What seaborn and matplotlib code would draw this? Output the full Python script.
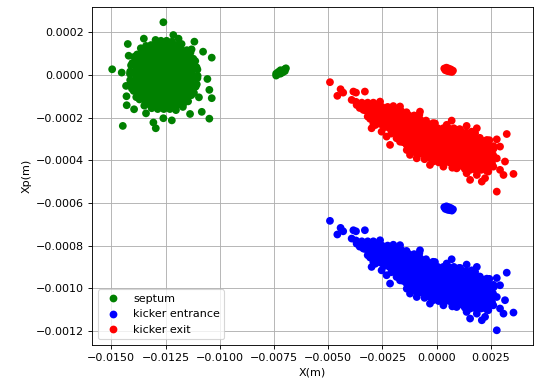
import matplotlib
matplotlib.use("Agg")
import matplotlib.pyplot as plt
import seaborn as sns
import pandas as pd

# ---------------- septum (green) ----------------
septum_x = [
    # isolated points
    -0.0126, -0.01496, -0.01424, -0.01037, -0.01077, -0.01117, -0.01214, -0.01452,
    -0.01432, -0.01429, -0.01395, -0.01447, -0.01306, -0.01295, -0.01221, -0.01137,
    -0.01083, -0.01048, -0.01037, -0.01048, -0.01057, -0.01096, -0.0126,
    -0.0135, -0.0119, -0.0113, -0.0142, -0.0143, -0.0134, -0.0117,
    # small bunch near -0.0072
    -0.0074, -0.0073, -0.0072, -0.0071, -0.0070, -0.00695, -0.0073, -0.0072, -0.0071, -0.0072, -0.0070, -0.0074,
    # dense core
    -0.01296, -0.01271, -0.01245, -0.0122,
    -0.0134, -0.01317, -0.01293, -0.0127, -0.01246, -0.01223, -0.01199, -0.01176,
    -0.01364, -0.01338, -0.01311, -0.01285, -0.01258, -0.01232, -0.01205, -0.01179, -0.01152,
    -0.01381, -0.01356, -0.01332, -0.01307, -0.01283, -0.01258, -0.01233, -0.01209, -0.01184, -0.0116, -0.01135,
    -0.01394, -0.01369, -0.01345, -0.0132, -0.01295, -0.0127, -0.01246, -0.01221, -0.01196, -0.01171, -0.01147, -0.01122,
    -0.01403, -0.01379, -0.01355, -0.0133, -0.01306, -0.01282, -0.01258, -0.01234, -0.0121, -0.01186, -0.01161, -0.01137, -0.01113,
    -0.01409, -0.01384, -0.01359, -0.01333, -0.01308, -0.01283, -0.01258, -0.01233, -0.01208, -0.01183, -0.01157, -0.01132, -0.01107,
    -0.01413, -0.01387, -0.01361, -0.01336, -0.0131, -0.01284, -0.01258, -0.01232, -0.01206, -0.0118, -0.01155, -0.01129, -0.01103,
    -0.01414, -0.01388, -0.01362, -0.01336, -0.0131, -0.01284, -0.01258, -0.01232, -0.01206, -0.0118, -0.01154, -0.01128, -0.01102,
    -0.01413, -0.01387, -0.01361, -0.01336, -0.0131, -0.01284, -0.01258, -0.01232, -0.01206, -0.0118, -0.01155, -0.01129, -0.01103,
    -0.0141, -0.01385, -0.01359, -0.01334, -0.01309, -0.01283, -0.01258, -0.01233, -0.01207, -0.01182, -0.01157, -0.01131, -0.01106,
    -0.01405, -0.01381, -0.01356, -0.01332, -0.01307, -0.01283, -0.01258, -0.01233, -0.01209, -0.01184, -0.0116, -0.01135, -0.01111,
    -0.01397, -0.01372, -0.01346, -0.01321, -0.01296, -0.01271, -0.01245, -0.0122, -0.01195, -0.0117, -0.01144, -0.01119,
    -0.01385, -0.0136, -0.01334, -0.01309, -0.01283, -0.01258, -0.01233, -0.01207, -0.01182, -0.01156, -0.01131,
    -0.0137, -0.01345, -0.0132, -0.01295, -0.0127, -0.01246, -0.01221, -0.01196, -0.01171, -0.01146,
    -0.01348, -0.01322, -0.01297, -0.01271, -0.01245, -0.01219, -0.01194, -0.01168,
    -0.01314, -0.01286, -0.01258, -0.0123, -0.01202,
]
septum_y = [
    0.000247, 0.0000265, 0.000145, 0.000081, 0.000109, 0.000156, 0.000187, 0.000011,
    -0.0000515, -0.000142, -0.000161, -0.000239, -0.000223, -0.00025, -0.000213, -0.000183,
    -0.000173, -0.000205, -0.000109, -0.00007, -0.000019, -0.000105, -0.000203,
    0.00017, 0.00017, 0.00012, 0.00009, -0.0001, -0.00018, -0.00015,
    -0.000003, 0.000005, 0.000013, 0.00002, 0.000027, 0.000031, 0.000014, 0.000006, 0.000012, 0.000022, 0.000018, 0.000006,
    0.000164, 0.00016, 0.00016, 0.000156,
    0.000136, 0.00014, 0.00014, 0.00014, 0.00014, 0.00014, 0.00014, 0.000145,
    0.000125, 0.00012, 0.00012, 0.00012, 0.00012, 0.00012, 0.00012, 0.00012, 0.000116,
    0.000096, 0.0001, 0.0001, 0.0001, 0.0001, 0.0001, 0.0001, 0.0001, 0.0001, 0.0001, 0.000105,
    0.000085, 0.00008, 0.00008, 0.00008, 0.00008, 0.00008, 0.00008, 0.00008, 0.00008, 0.00008, 0.00008, 0.000076,
    0.000056, 0.00006, 0.00006, 0.00006, 0.00006, 0.00006, 0.00006, 0.00006, 0.00006, 0.00006, 0.00006, 0.00006, 0.000065,
    0.000045, 0.00004, 0.00004, 0.00004, 0.00004, 0.00004, 0.00004, 0.00004, 0.00004, 0.00004, 0.00004, 0.00004, 0.000036,
    0.000016, 0.00002, 0.00002, 0.00002, 0.00002, 0.00002, 0.00002, 0.00002, 0.00002, 0.00002, 0.00002, 0.00002, 0.000025,
    0.000005, 0.0, 0.0, 0.0, 0.0, 0.0, 0.0, 0.0, 0.0, 0.0, 0.0, 0.0, -0.000004,
    -0.000024, -0.00002, -0.00002, -0.00002, -0.00002, -0.00002, -0.00002, -0.00002, -0.00002, -0.00002, -0.00002, -0.00002, -0.000015,
    -0.000035, -0.00004, -0.00004, -0.00004, -0.00004, -0.00004, -0.00004, -0.00004, -0.00004, -0.00004, -0.00004, -0.00004, -0.000044,
    -0.000064, -0.00006, -0.00006, -0.00006, -0.00006, -0.00006, -0.00006, -0.00006, -0.00006, -0.00006, -0.00006, -0.00006, -0.000055,
    -0.000075, -0.00008, -0.00008, -0.00008, -0.00008, -0.00008, -0.00008, -0.00008, -0.00008, -0.00008, -0.00008, -0.000084,
    -0.000104, -0.0001, -0.0001, -0.0001, -0.0001, -0.0001, -0.0001, -0.0001, -0.0001, -0.0001, -0.000095,
    -0.000115, -0.00012, -0.00012, -0.00012, -0.00012, -0.00012, -0.00012, -0.00012, -0.00012, -0.000124,
    -0.000144, -0.00014, -0.00014, -0.00014, -0.00014, -0.00014, -0.00014, -0.000135,
    -0.000156, -0.00016, -0.00016, -0.00016, -0.000165,
]

# ---------------- kicker (shared X positions) ----------------
kicker_x = [
    # isolated points
    -0.00492, -0.00443, -0.00431, -0.00458, -0.00384, -0.00372, -0.00331, -0.00392,
    -0.00369, -0.0030, -0.00254, -0.00215, -0.00169, -0.00123, 0.00069, 0.00138,
    0.00185, 0.00323, 0.00277, 0.00292, 0.00231, 0.00277, 0.00315, 0.00308,
    0.00354, 0.00277, 0.00154, 0.00208, 0.00223, 0.00261, 0.00292,
    # small bunch
    0.00035, 0.00045, 0.00055, 0.00065, 0.00075, 0.0004, 0.0005, 0.0006, 0.0007, 0.00055,
    # edge bumps (top, then bottom)
    -0.00261, -0.00169, -0.00077, -0.00008, 0.00046, 0.00108, 0.00177, 0.00231,
    -0.00338, -0.00292, -0.00231, -0.00185, -0.00138, -0.00092, -0.00031, 0.00031, 0.00092, 0.00138, 0.00185, 0.00238,
    # dense band
    -0.00372, -0.00345, -0.00318, -0.00292, -0.00265,
    -0.00355, -0.00329, -0.00303, -0.00278, -0.00252, -0.00226, -0.002,
    -0.00329, -0.00305, -0.002815, -0.00258, -0.00234, -0.0021, -0.001865, -0.00163, -0.00139,
    -0.00318, -0.00294, -0.0027, -0.00247, -0.00223, -0.00199, -0.00175, -0.00151, -0.00128, -0.00104, -0.0008,
    -0.00307, -0.00281, -0.00255, -0.0023, -0.00204, -0.00178, -0.00152, -0.00126, -0.00101, -0.00075, -0.00049,
    -0.00283, -0.00259, -0.00235, -0.0021, -0.00186, -0.00162, -0.00138, -0.00114, -0.00089, -0.00065, -0.00041, -0.00017,
    -0.00243, -0.00218, -0.00193, -0.00169, -0.00144, -0.00119, -0.00094, -0.0007, -0.00045, -0.0002, 0.00005, 0.0003, 0.00054, 0.00079, 0.00104,
    -0.00209, -0.00184, -0.0016, -0.00135, -0.0011, -0.00086, -0.00061, -0.00036, -0.00011, 0.00013, 0.00038, 0.00062, 0.00087, 0.00112, 0.00136, 0.00161,
    -0.00175, -0.0015, -0.00125, -0.001, -0.00075, -0.0005, -0.00025, 0.0, 0.00024, 0.00049, 0.00074, 0.00099, 0.00124, 0.00149, 0.00174, 0.00199,
    -0.00156, -0.00131, -0.00106, -0.00081, -0.00056, -0.00032, -0.00007, 0.00018, 0.00043, 0.00068, 0.00093, 0.00118, 0.00143, 0.00168, 0.00193, 0.00218, 0.00243,
    -0.0014, -0.00115, -0.0009, -0.00065, -0.00039, -0.00014, 0.00011, 0.00036, 0.00061, 0.00086, 0.00111, 0.00136, 0.00161, 0.00186, 0.00212, 0.00237, 0.00262,
    -0.00124, -0.00098, -0.00073, -0.00047, -0.00021, 0.00005, 0.0003, 0.00056, 0.00082, 0.00107, 0.00133, 0.00159, 0.00185, 0.0021, 0.00236, 0.00262,
    -0.00094, -0.00069, -0.00043, -0.00018, 0.00007, 0.00032, 0.00058, 0.00083, 0.00108, 0.00134, 0.00159, 0.00184, 0.00209, 0.00235, 0.0026,
    -0.00056, -0.00032, -0.00007, 0.00017, 0.00041, 0.00066, 0.0009, 0.00114, 0.00139, 0.00163, 0.00187, 0.00212, 0.00236, 0.0026,
    -0.00016, 0.00009, 0.00033, 0.00058, 0.00083, 0.00107, 0.00132, 0.00157, 0.00181, 0.00206, 0.0023, 0.00255,
    0.00072, 0.00097, 0.00123, 0.00148, 0.00173, 0.00199, 0.00224, 0.0025,
    0.0013, 0.00155, 0.0018, 0.00205, 0.0023,
]

exit_y = [
    -0.000034, -0.000067, -0.000083, -0.000098, -0.000078, -0.000083, -0.000078, -0.000117,
    -0.000141, -0.00025, -0.000266, -0.000328, -0.000313, -0.000375, -0.000214, -0.000239,
    -0.00025, -0.000277, -0.000302, -0.000336, -0.000313, -0.000391, -0.000406, -0.000469,
    -0.000464, -0.000547, -0.000492, -0.0005, -0.000484, -0.00043, -0.000445,
    0.00003, 0.000034, 0.00003, 0.000026, 0.00002, 0.000022, 0.000018, 0.000016, 0.000014, 0.000024,
    -0.000125, -0.000148, -0.000172, -0.000227, -0.000234, -0.000255, -0.000273, -0.000305,
    -0.000164, -0.000227, -0.000289, -0.000297, -0.000352, -0.000391, -0.000422, -0.00043, -0.000438, -0.000461, -0.000469, -0.000453,
    -0.000126, -0.00013, -0.00013, -0.00013, -0.000134,
    -0.000155, -0.00015, -0.00015, -0.00015, -0.00015, -0.00015, -0.000146,
    -0.000166, -0.00017, -0.00017, -0.00017, -0.00017, -0.00017, -0.00017, -0.00017, -0.000175,
    -0.000195, -0.00019, -0.00019, -0.00019, -0.00019, -0.00019, -0.00019, -0.00019, -0.00019, -0.00019, -0.000186,
    -0.000206, -0.00021, -0.00021, -0.00021, -0.00021, -0.00021, -0.00021, -0.00021, -0.00021, -0.00021, -0.000214,
    -0.000235, -0.00023, -0.00023, -0.00023, -0.00023, -0.00023, -0.00023, -0.00023, -0.00023, -0.00023, -0.00023, -0.000226,
    -0.000246, -0.00025, -0.00025, -0.00025, -0.00025, -0.00025, -0.00025, -0.00025, -0.00025, -0.00025, -0.00025, -0.00025, -0.00025, -0.00025, -0.000255,
    -0.000275, -0.00027, -0.00027, -0.00027, -0.00027, -0.00027, -0.00027, -0.00027, -0.00027, -0.00027, -0.00027, -0.00027, -0.00027, -0.00027, -0.00027, -0.000266,
    -0.000286, -0.00029, -0.00029, -0.00029, -0.00029, -0.00029, -0.00029, -0.00029, -0.00029, -0.00029, -0.00029, -0.00029, -0.00029, -0.00029, -0.00029, -0.000295,
    -0.000315, -0.00031, -0.00031, -0.00031, -0.00031, -0.00031, -0.00031, -0.00031, -0.00031, -0.00031, -0.00031, -0.00031, -0.00031, -0.00031, -0.00031, -0.00031, -0.000306,
    -0.000326, -0.00033, -0.00033, -0.00033, -0.00033, -0.00033, -0.00033, -0.00033, -0.00033, -0.00033, -0.00033, -0.00033, -0.00033, -0.00033, -0.00033, -0.00033, -0.000334,
    -0.000355, -0.00035, -0.00035, -0.00035, -0.00035, -0.00035, -0.00035, -0.00035, -0.00035, -0.00035, -0.00035, -0.00035, -0.00035, -0.00035, -0.00035, -0.000346,
    -0.000366, -0.00037, -0.00037, -0.00037, -0.00037, -0.00037, -0.00037, -0.00037, -0.00037, -0.00037, -0.00037, -0.00037, -0.00037, -0.00037, -0.000375,
    -0.000395, -0.00039, -0.00039, -0.00039, -0.00039, -0.00039, -0.00039, -0.00039, -0.00039, -0.00039, -0.00039, -0.00039, -0.00039, -0.000386,
    -0.000406, -0.00041, -0.00041, -0.00041, -0.00041, -0.00041, -0.00041, -0.00041, -0.00041, -0.00041, -0.00041, -0.000414,
    -0.000435, -0.00043, -0.00043, -0.00043, -0.00043, -0.00043, -0.00043, -0.000426,
    -0.000441, -0.000445, -0.000445, -0.000445, -0.000449,
]

entrance_y = [
    -0.000684, -0.000717, -0.000733, -0.000748, -0.000728, -0.000733, -0.000728, -0.000767,
    -0.000791, -0.0009, -0.000916, -0.000978, -0.000963, -0.001025, -0.000864, -0.000889,
    -0.0009, -0.000927, -0.000952, -0.000986, -0.000963, -0.001041, -0.001056, -0.001119,
    -0.001114, -0.001197, -0.001142, -0.00115, -0.001134, -0.00108, -0.001095,
    -0.00062, -0.000616, -0.00062, -0.000624, -0.00063, -0.000628, -0.000632, -0.000634, -0.000636, -0.000626,
    -0.000775, -0.000798, -0.000822, -0.000877, -0.000884, -0.000905, -0.000923, -0.000955,
    -0.000814, -0.000877, -0.000939, -0.000947, -0.001002, -0.001041, -0.001072, -0.00108, -0.001088, -0.001111, -0.001119, -0.001103,
    -0.000776, -0.00078, -0.00078, -0.00078, -0.000784,
    -0.000805, -0.0008, -0.0008, -0.0008, -0.0008, -0.0008, -0.000796,
    -0.000816, -0.00082, -0.00082, -0.00082, -0.00082, -0.00082, -0.00082, -0.00082, -0.000825,
    -0.000845, -0.00084, -0.00084, -0.00084, -0.00084, -0.00084, -0.00084, -0.00084, -0.00084, -0.00084, -0.000836,
    -0.000856, -0.00086, -0.00086, -0.00086, -0.00086, -0.00086, -0.00086, -0.00086, -0.00086, -0.00086, -0.000864,
    -0.000885, -0.00088, -0.00088, -0.00088, -0.00088, -0.00088, -0.00088, -0.00088, -0.00088, -0.00088, -0.00088, -0.000876,
    -0.000896, -0.0009, -0.0009, -0.0009, -0.0009, -0.0009, -0.0009, -0.0009, -0.0009, -0.0009, -0.0009, -0.0009, -0.0009, -0.0009, -0.000905,
    -0.000925, -0.00092, -0.00092, -0.00092, -0.00092, -0.00092, -0.00092, -0.00092, -0.00092, -0.00092, -0.00092, -0.00092, -0.00092, -0.00092, -0.00092, -0.000916,
    -0.000936, -0.00094, -0.00094, -0.00094, -0.00094, -0.00094, -0.00094, -0.00094, -0.00094, -0.00094, -0.00094, -0.00094, -0.00094, -0.00094, -0.00094, -0.000945,
    -0.000965, -0.00096, -0.00096, -0.00096, -0.00096, -0.00096, -0.00096, -0.00096, -0.00096, -0.00096, -0.00096, -0.00096, -0.00096, -0.00096, -0.00096, -0.00096, -0.000956,
    -0.000976, -0.00098, -0.00098, -0.00098, -0.00098, -0.00098, -0.00098, -0.00098, -0.00098, -0.00098, -0.00098, -0.00098, -0.00098, -0.00098, -0.00098, -0.00098, -0.000984,
    -0.001005, -0.001, -0.001, -0.001, -0.001, -0.001, -0.001, -0.001, -0.001, -0.001, -0.001, -0.001, -0.001, -0.001, -0.001, -0.000996,
    -0.001016, -0.00102, -0.00102, -0.00102, -0.00102, -0.00102, -0.00102, -0.00102, -0.00102, -0.00102, -0.00102, -0.00102, -0.00102, -0.00102, -0.001025,
    -0.001045, -0.00104, -0.00104, -0.00104, -0.00104, -0.00104, -0.00104, -0.00104, -0.00104, -0.00104, -0.00104, -0.00104, -0.00104, -0.001036,
    -0.001056, -0.00106, -0.00106, -0.00106, -0.00106, -0.00106, -0.00106, -0.00106, -0.00106, -0.00106, -0.00106, -0.001064,
    -0.001085, -0.00108, -0.00108, -0.00108, -0.00108, -0.00108, -0.00108, -0.001076,
    -0.001091, -0.001095, -0.001095, -0.001095, -0.001099,
]

series_names = ["septum", "kicker entrance", "kicker exit"]
series_colors = ["green", "blue", "red"]

assert len(septum_x) == len(septum_y), (len(septum_x), len(septum_y))
assert len(kicker_x) == len(exit_y) == len(entrance_y), (len(kicker_x), len(exit_y), len(entrance_y))

df = pd.DataFrame({
    "X": septum_x + kicker_x + kicker_x,
    "Xp": septum_y + entrance_y + exit_y,
    "beam": [series_names[0]] * len(septum_x)
            + [series_names[1]] * len(kicker_x)
            + [series_names[2]] * len(kicker_x),
})

fig = plt.figure(figsize=(535 / 80, 383 / 80), dpi=80)
ax = fig.add_axes([92 / 535, 1 - 345 / 383, (533 - 92) / 535, (345 - 7.3) / 383])
ax.set_axisbelow(True)
ax.grid(True)

sns.scatterplot(data=df, x="X", y="Xp", hue="beam", hue_order=series_names,
                palette=dict(zip(series_names, series_colors)),
                s=49, linewidth=0, ax=ax)

ax.set_xlim(-0.01589, 0.00444)
ax.set_ylim(-0.001266, 0.000317)
ax.set_xlabel("X(m)")
ax.set_ylabel("Xp(m)")
sns.move_legend(ax, "lower left", title=None)

fig.savefig("out.png", dpi=80)
